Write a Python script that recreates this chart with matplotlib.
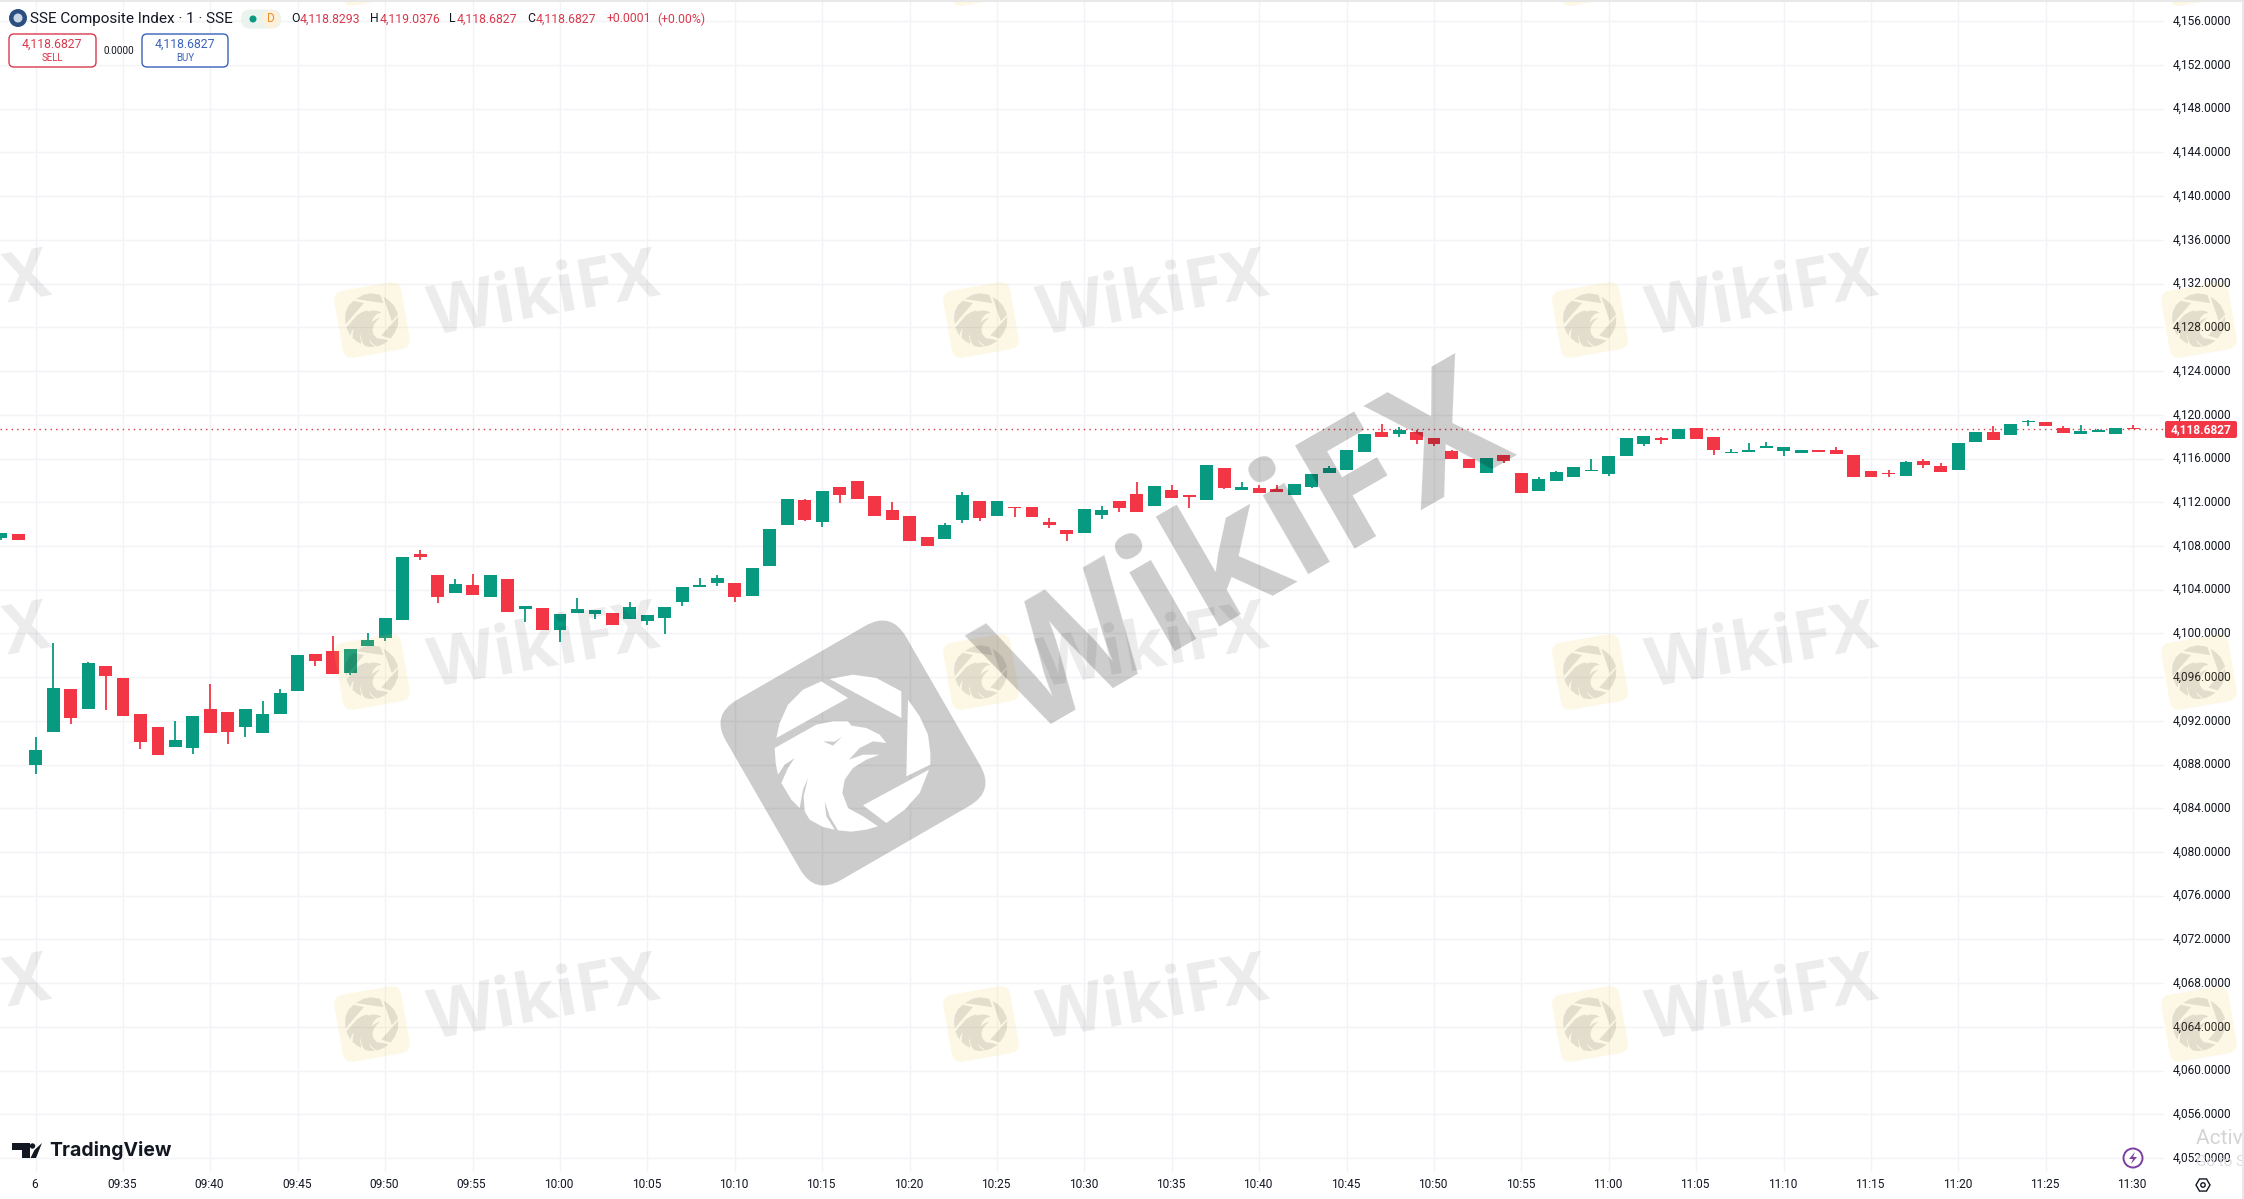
import numpy as np
import matplotlib
matplotlib.use('Agg')
import matplotlib.pyplot as plt
from matplotlib.patches import FancyBboxPatch, Circle, Polygon, Rectangle, RegularPolygon
from matplotlib.transforms import Affine2D

plt.rcParams['font.family'] = ['Roboto', 'DejaVu Sans']

# minutes since 09:30, the first two bars belong to the previous session
minutes = np.arange(-2, 121)
opens = [4108.74, 4109.13, 4088.0, 4091.0, 4094.9, 4093.1, 4097.0, 4095.9, 4092.6, 4091.4,
         4089.65, 4089.55, 4093.1, 4092.85, 4091.4, 4090.85, 4092.6, 4094.7, 4098.15, 4098.35,
         4096.35, 4098.8, 4099.55, 4101.25, 4107.3, 4105.3, 4103.65, 4104.45, 4103.35, 4105.0,
         4102.2, 4102.3, 4100.35, 4101.9, 4101.75, 4101.85, 4101.3, 4101.1, 4101.45, 4102.85,
         4104.25, 4104.6, 4104.6, 4103.4, 4106.15, 4109.9, 4112.2, 4110.15, 4113.35, 4113.9,
         4112.55, 4111.25, 4110.7, 4108.8, 4108.6, 4110.35, 4112.1, 4110.7, 4111.5, 4111.55,
         4110.15, 4109.45, 4109.15, 4110.8, 4112.1, 4112.75, 4111.7, 4113.1, 4112.65, 4112.2,
         4115.15, 4113.1, 4113.3, 4113.2, 4112.65, 4113.4, 4114.7, 4114.95, 4116.6, 4118.45,
         4118.2, 4118.45, 4117.9, 4116.7, 4115.95, 4114.7, 4116.35, 4114.7, 4113.0, 4113.95,
         4114.3, 4114.85, 4114.6, 4116.25, 4117.3, 4117.8, 4117.8, 4118.8, 4117.95, 4116.5,
         4116.6, 4117.0, 4116.65, 4116.5, 4116.65, 4116.75, 4116.3, 4114.85, 4114.6, 4114.4,
         4115.75, 4115.3, 4114.95, 4117.5, 4118.4, 4118.15, 4119.3, 4119.35, 4118.8, 4118.25,
         4118.45, 4118.25, 4118.8293]
highs = [4109.2, 4109.13, 4090.5, 4099.1, 4094.9, 4097.4, 4097.0, 4095.9, 4092.6, 4091.4,
         4092.0, 4092.4, 4095.4, 4092.85, 4093.1, 4093.85, 4094.95, 4098.05, 4098.15, 4099.8,
         4098.6, 4100.05, 4101.45, 4106.95, 4107.6, 4105.3, 4104.95, 4105.4, 4105.3, 4105.0,
         4102.55, 4102.3, 4101.75, 4103.2, 4102.1, 4101.85, 4102.85, 4101.65, 4102.4, 4104.2,
         4105.05, 4105.3, 4104.6, 4105.95, 4109.55, 4112.25, 4112.25, 4113.0, 4113.35, 4113.9,
         4112.55, 4112.0, 4110.7, 4108.8, 4110.1, 4112.9, 4112.1, 4112.1, 4111.5, 4111.55,
         4110.6, 4109.45, 4111.35, 4111.65, 4112.1, 4113.85, 4113.5, 4113.55, 4112.65, 4115.4,
         4115.15, 4113.85, 4113.55, 4113.55, 4113.65, 4114.6, 4115.3, 4116.8, 4118.2, 4119.2,
         4118.9, 4118.6, 4117.9, 4116.8, 4115.95, 4116.05, 4116.35, 4114.7, 4114.3, 4114.85,
         4115.25, 4115.95, 4116.25, 4117.9, 4118.05, 4118.0, 4118.7, 4118.8, 4117.95, 4116.9,
         4117.4, 4117.55, 4117.05, 4116.8, 4116.8, 4117.05, 4116.3, 4114.85, 4114.95, 4115.8,
         4116.0, 4115.55, 4117.4, 4118.4, 4118.95, 4119.15, 4119.55, 4119.35, 4118.95, 4119.05,
         4118.7, 4118.8, 4119.0376]
lows = [4108.5, 4108.52, 4087.1, 4091.0, 4091.7, 4093.1, 4093.0, 4092.4, 4089.4, 4088.9,
        4089.65, 4089.0, 4090.85, 4089.9, 4090.55, 4090.85, 4092.6, 4094.7, 4097.05, 4096.25,
        4096.2, 4098.8, 4099.3, 4101.25, 4106.75, 4102.8, 4103.65, 4103.55, 4103.35, 4102.0,
        4101.0, 4100.35, 4099.25, 4101.9, 4101.3, 4100.8, 4101.3, 4100.8, 4099.9, 4102.55,
        4104.2, 4104.3, 4102.85, 4103.4, 4106.15, 4109.9, 4110.25, 4109.7, 4111.9, 4112.25,
        4110.7, 4110.35, 4108.45, 4107.95, 4108.6, 4110.1, 4110.25, 4110.7, 4110.65, 4110.65,
        4109.6, 4108.45, 4109.15, 4110.5, 4111.15, 4111.15, 4111.7, 4112.35, 4111.45, 4112.2,
        4113.2, 4113.1, 4112.85, 4112.9, 4112.65, 4113.3, 4114.7, 4114.95, 4116.6, 4118.0,
        4118.0, 4117.35, 4117.1, 4115.95, 4115.15, 4114.7, 4115.6, 4112.85, 4113.0, 4113.95,
        4114.3, 4114.85, 4114.4, 4116.25, 4117.15, 4117.35, 4117.8, 4117.8, 4116.3, 4116.5,
        4116.6, 4117.0, 4116.25, 4116.5, 4116.55, 4116.4, 4114.3, 4114.3, 4114.3, 4114.4,
        4115.1, 4114.75, 4114.95, 4117.5, 4117.7, 4118.15, 4119.0, 4119.0, 4118.35, 4118.25,
        4118.4, 4118.2, 4118.6827]
closes = [4109.2, 4108.52, 4089.3, 4095.0, 4092.3, 4097.3, 4096.1, 4092.4, 4090.05, 4088.9,
          4090.2, 4092.4, 4090.85, 4091.0, 4093.1, 4092.65, 4094.5, 4098.05, 4097.45, 4096.25,
          4098.6, 4099.35, 4101.45, 4106.95, 4106.95, 4103.35, 4104.55, 4103.55, 4105.3, 4102.0,
          4102.55, 4100.35, 4101.75, 4102.2, 4102.1, 4100.8, 4102.4, 4101.65, 4102.4, 4104.2,
          4104.35, 4105.05, 4103.3, 4105.95, 4109.55, 4112.25, 4110.35, 4113.0, 4112.65, 4112.25,
          4110.7, 4110.35, 4108.45, 4107.95, 4109.9, 4112.65, 4110.55, 4112.1, 4111.45, 4110.65,
          4109.9, 4109.05, 4111.35, 4111.25, 4111.45, 4111.15, 4113.5, 4112.35, 4112.45, 4115.4,
          4113.3, 4113.4, 4112.85, 4112.9, 4113.65, 4114.6, 4115.15, 4116.8, 4118.2, 4118.0,
          4118.65, 4117.7, 4117.35, 4115.95, 4115.15, 4116.05, 4115.8, 4112.85, 4114.1, 4114.75,
          4115.25, 4114.9, 4116.25, 4117.9, 4118.05, 4117.7, 4118.7, 4117.8, 4116.75, 4116.6,
          4116.7, 4117.05, 4117.05, 4116.8, 4116.6, 4116.4, 4114.3, 4114.3, 4114.55, 4115.65,
          4115.4, 4114.75, 4117.4, 4118.4, 4117.7, 4119.15, 4119.35, 4119.0, 4118.35, 4118.5,
          4118.5, 4118.8, 4118.6827]

price_ticks = np.arange(4052, 4157, 4)
time_ticks = np.arange(0, 121, 5)
time_labels = ['6', '09:35', '09:40', '09:45', '09:50', '09:55', '10:00', '10:05', '10:10', '10:15',
               '10:20', '10:25', '10:30', '10:35', '10:40', '10:45', '10:50', '10:55', '11:00', '11:05',
               '11:10', '11:15', '11:20', '11:25', '11:30']
last_price = closes[-1]

GREEN = '#089981'
RED = '#f23645'
W, H = 2244, 1199

fig = plt.figure(figsize=(W / 100, H / 100), dpi=100, facecolor='white')

# price pane, right edge at 2164px and bottom at 1172px
ax = fig.add_axes([0, (H - 1172) / H, 2164 / W, 1172 / H])
ax.set_xlim(-2.037, 121.76)
ax.set_ylim(4050.72, 4157.95)
ax.grid(True, color='#f2f3f6', linewidth=1.0)
ax.set_axisbelow(True)
for s in ax.spines.values():
    s.set_visible(False)
ax.yaxis.tick_right()
ax.set_yticks(price_ticks)
ax.set_yticklabels([f'{v:,.4f}' for v in price_ticks], fontsize=8.6, color='#131722')
ax.set_xticks(time_ticks)
ax.set_xticklabels(time_labels, fontsize=8.6, color='#131722')
ax.tick_params(axis='both', length=0)
ax.tick_params(axis='y', pad=6.5)
ax.tick_params(axis='x', pad=4.5)
# the labels sit a little off their gridlines in the original
for lb in ax.get_yticklabels():
    lb.set_transform(lb.get_transform() + Affine2D().translate(0, 1.5))
for lb in ax.get_xticklabels():
    lb.set_transform(lb.get_transform() + Affine2D().translate(-1, 0))

o = np.array(opens)
c = np.array(closes)
colors = [GREEN if b >= a else RED for a, b in zip(o, c)]
ax.vlines(minutes, lows, highs, colors=colors, linewidth=1.3, zorder=3)
ax.bar(minutes, np.maximum(np.abs(c - o), 0.14), bottom=np.minimum(o, c), width=0.74, color=colors, linewidth=0, zorder=3)
ax.axhline(last_price, color='#d9394c', linestyle=(0, (1, 3)), linewidth=1.0, zorder=2)

# overlay in pixel coordinates for watermarks, header and badges
ov = fig.add_axes([0, 0, 1, 1], facecolor='none')
ov.set_xlim(0, W)
ov.set_ylim(H, 0)
ov.axis('off')


def rot_box(cx, cy, w, h, r, angle, **kw):
    box = FancyBboxPatch((cx - w / 2 + r, cy - h / 2 + r), w - 2 * r, h - 2 * r,
                         boxstyle=f'round,pad={r},rounding_size={r}', linewidth=0, **kw)
    box.set_transform(Affine2D().rotate_deg_around(cx, cy, -angle) + ov.transData)
    ov.add_patch(box)


# logo shapes traced around the centre of the big logo, in 1/3 px
wedge_a = [(305, 185), (385, 235), (170, 355), (180, 310), (205, 255), (250, 210)]
wedge_b = [(330, 178), (400, 165), (470, 175), (545, 215), (545, 295)]
wedge_c = [(565, 240), (600, 290), (625, 345), (632, 400), (632, 435), (560, 470)]
wedge_d = [(628, 450), (600, 520), (555, 570), (500, 610), (430, 557)]
eagle = [(165, 385), (290, 315), (340, 305), (385, 305), (395, 318), (440, 325), (480, 345), (500, 370),
         (460, 365), (420, 385), (388, 420), (430, 405), (480, 405), (440, 420), (400, 445), (375, 480),
         (368, 520), (385, 565), (430, 590), (475, 620), (440, 630), (395, 636), (355, 632), (330, 590),
         (315, 545), (320, 590), (345, 630), (310, 622), (270, 600), (255, 575), (252, 530), (265, 475),
         (250, 510), (240, 565), (215, 540), (185, 490), (205, 445), (225, 415), (195, 435), (175, 465),
         (168, 430)]
eye = [(310, 365), (340, 378), (368, 350), (345, 366)]


def logo_shape(points, cx, cy, scale, angle, **kw):
    p = (np.array(points, dtype=float) - 400) / 3 * scale
    t = np.radians(angle)
    rot = np.array([[np.cos(t), -np.sin(t)], [np.sin(t), np.cos(t)]])
    ov.add_patch(Polygon(p @ rot.T + [cx, cy], linewidth=0, **kw))


# small watermark tiles
for row in range(-1, 3):
    for col in range(-1, 4):
        dx, dy = 609 * col, 352 * row
        rot_box(372 + dx, 320 + dy, 68, 68, 10, 10, facecolor='#f5c842', alpha=0.13, zorder=5)
        for shape in [wedge_a, wedge_b, wedge_c, wedge_d, eagle]:
            logo_shape(shape, 372 + dx, 320 + dy, 0.34, -20, facecolor='black', alpha=0.1, zorder=6)
        if row >= 0 and col < 3:
            ov.text(544 + dx, 297 + dy, 'WikiFX', fontsize=49, fontweight='bold', family='Open Sans', color='black',
                    alpha=0.08, rotation=10, ha='center', va='center', zorder=6)

# big watermark
rot_box(853, 753, 208, 208, 30, 30, facecolor='black', alpha=0.2, zorder=7)
ov.text(1250, 559, 'WikiFX', fontsize=120, fontweight='bold', family='Open Sans', color='black',
        alpha=0.2, rotation=30, ha='center', va='center', zorder=7)
for shape in [wedge_a, wedge_b, wedge_c, wedge_d, eagle]:
    logo_shape(shape, 853, 753, 1, 0, facecolor='white', zorder=8)
logo_shape(eye, 853, 753, 1, 0, facecolor='#cccccc', zorder=8)

# header
ov.add_patch(Circle((18, 18), 9, facecolor='#2a4f80', linewidth=0, zorder=10))
ov.add_patch(Circle((18, 18), 4.5, facecolor='#c9d6e6', linewidth=0, zorder=10))
ov.text(30, 18.5, 'SSE Composite Index · 1 · SSE', fontsize=11, color='#131722', va='center', zorder=10)
rot_box(261, 19, 40, 19, 9, 0, facecolor='#eaf3ee', zorder=9)
ov.add_patch(Circle((253, 19), 3.5, facecolor=GREEN, linewidth=0, zorder=10))
ov.add_patch(Circle((271, 19), 9, facecolor='#fdf0dc', linewidth=0, zorder=10))
ov.text(271, 19, 'D', fontsize=8.6, color='#e8912d', ha='center', va='center', zorder=11)
for x, s, col in [(291, 'O', '#131722'), (300, '4,118.8293', '#d9394c'),
                  (370, 'H', '#131722'), (380, '4,119.0376', '#d9394c'),
                  (449, 'L', '#131722'), (457, '4,118.6827', '#d9394c'),
                  (527, 'C', '#131722'), (536, '4,118.6827', '#d9394c'),
                  (607, '+0.0001', '#d9394c'), (657, '(+0.00%)', '#d9394c')]:
    ov.text(x, 19, s, fontsize=8.8, color=col, va='center', zorder=10)

# sell / buy badges
ov.add_patch(FancyBboxPatch((9, 34), 87, 33, boxstyle='round,pad=0,rounding_size=5', facecolor='white',
                            edgecolor='#d9394c', linewidth=1.0, zorder=10))
ov.text(52, 44, '4,118.6827', fontsize=8.8, color='#d9394c', ha='center', va='center', zorder=11)
ov.text(52, 58, 'SELL', fontsize=7, color='#d9394c', ha='center', va='center', zorder=11)
ov.text(119, 51, '0.0000', fontsize=7.2, color='#131722', ha='center', va='center', zorder=11)
ov.add_patch(FancyBboxPatch((142, 34), 86, 33, boxstyle='round,pad=0,rounding_size=5', facecolor='white',
                            edgecolor='#3a62b8', linewidth=1.0, zorder=10))
ov.text(185, 44, '4,118.6827', fontsize=8.8, color='#3a62b8', ha='center', va='center', zorder=11)
ov.text(185, 58, 'BUY', fontsize=7, color='#3a62b8', ha='center', va='center', zorder=11)

# last price tag
ov.add_patch(FancyBboxPatch((2165, 421), 72, 17, boxstyle='round,pad=0,rounding_size=2', facecolor=RED,
                            linewidth=0, zorder=10))
ov.text(2201, 429.5, f'{last_price:,.4f}', fontsize=8.6, fontweight='bold', color='white', ha='center', va='center', zorder=11)

# TradingView logo
ov.add_patch(Polygon([[12, 1143], [30, 1143], [30, 1158], [22, 1158], [22, 1150], [12, 1150]],
                     facecolor='#131722', linewidth=0, zorder=10))
ov.add_patch(Circle((32.5, 1146), 2.7, facecolor='#131722', linewidth=0, zorder=10))
ov.add_patch(Polygon([[36, 1158], [42, 1143], [34.5, 1150], [30.5, 1158]], facecolor='#131722', linewidth=0, zorder=10))
ov.text(49, 1150.5, 'TradingView', fontsize=14, fontweight='bold', family='Inter', color='#131722', va='center', zorder=10)

# lightning badge and settings hexagon
ov.add_patch(Circle((2133, 1158), 9.5, facecolor='none', edgecolor='#7b3fa0', linewidth=1.4, zorder=10))
ov.add_patch(Polygon([[2135, 1152], [2129, 1159], [2133, 1159], [2131, 1164], [2137, 1157], [2133, 1157]],
                     facecolor='#7b3fa0', linewidth=0, zorder=10))
ov.add_patch(RegularPolygon((2203, 1185), 6, radius=7, orientation=np.pi / 6, facecolor='none', edgecolor='#131722',
                            linewidth=1.0, zorder=10))
ov.add_patch(Circle((2203, 1185), 2.2, facecolor='none', edgecolor='#131722', linewidth=1.0, zorder=10))

# windows activation text and browser edges
ov.text(2196, 1139, 'Activate Windows', fontsize=15, color='#d4d4d4', va='center', zorder=9)
ov.text(2196, 1162, 'Go to Settings', fontsize=11, color='#dddddd', va='center', zorder=9)
ov.add_patch(Rectangle((2242, 0), 2, H, facecolor='#e8e8e8', linewidth=0, zorder=12))
ov.add_patch(Rectangle((0, 0), W, 2, facecolor='#e8e8e8', linewidth=0, zorder=12))

fig.savefig('out.png', dpi=100)
